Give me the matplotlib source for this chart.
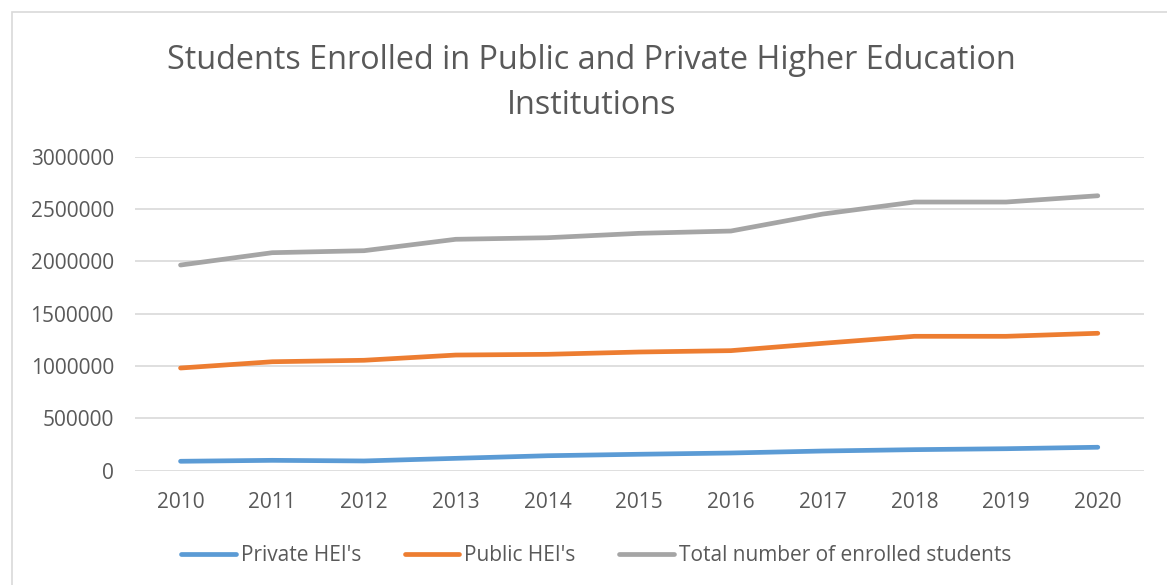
import matplotlib.pyplot as plt
from matplotlib.patches import Rectangle

# Data
years = ['2010', '2011', '2012', '2013', '2014', '2015', '2016', '2017', '2018', '2019', '2020']
private_hei = [90000, 99000, 93000, 118000, 143000, 157000, 169000, 188000, 201000, 210000, 224000]
public_hei = [981000, 1041000, 1055000, 1105000, 1112000, 1134000, 1147000, 1217000, 1284000, 1284000, 1313000]
total_students = [1965000, 2083000, 2102000, 2211000, 2226000, 2268000, 2290000, 2452000, 2567000, 2567000, 2627000]

series_names = ["Private HEI's", "Public HEI's", "Total number of enrolled students"]
y_ticks = [0, 500000, 1000000, 1500000, 2000000, 2500000, 3000000]

plt.rcParams['font.family'] = ['Open Sans', 'DejaVu Sans']
text_color = '#595959'

fig = plt.figure(figsize=(11.67, 5.85), dpi=100)
ax = fig.add_axes([0.1154, 0.1954, 0.8646, 0.5367])

# outer chart frame (cut off at right/bottom like the screenshot)
fig.patches.append(Rectangle((12 / 1167, -0.1), 1.2, 1 - 12 / 585 + 0.1,
                             transform=fig.transFigure, fill=False,
                             edgecolor='#D9D9D9', linewidth=1.2))

x = list(range(len(years)))
ax.plot(x, private_hei, color='#5B9BD5', linewidth=3.4, solid_capstyle='round', label=series_names[0])
ax.plot(x, public_hei, color='#ED7D31', linewidth=3.4, solid_capstyle='round', label=series_names[1])
ax.plot(x, total_students, color='#A5A5A5', linewidth=3.4, solid_capstyle='round', label=series_names[2])

ax.set_xlim(-0.5, len(years) - 0.5)
ax.set_ylim(0, 3000000)
ax.set_xticks(x)
ax.set_xticklabels(years)
ax.set_yticks(y_ticks)
ax.set_yticklabels([str(v) for v in y_ticks])
ax.tick_params(axis='both', length=0, labelsize=15, labelcolor=text_color)
ax.tick_params(axis='y', pad=15)
ax.tick_params(axis='x', pad=15)

ax.grid(axis='y', color='#D9D9D9', linewidth=1.2)
ax.set_axisbelow(True)
for s in ax.spines.values():
    s.set_visible(False)

fig.text(0.507, 0.858, 'Students Enrolled in Public and Private Higher Education\nInstitutions',
         ha='center', va='center', fontsize=23.3, color=text_color, linespacing=1.5)

leg = fig.legend(loc='center', bbox_to_anchor=(0.511, 0.05), ncol=3, frameon=False,
                 fontsize=15, handlelength=2.6, handletextpad=0.25, columnspacing=2.1)
for t in leg.get_texts():
    t.set_color(text_color)

fig.savefig('out.png', dpi=100)
